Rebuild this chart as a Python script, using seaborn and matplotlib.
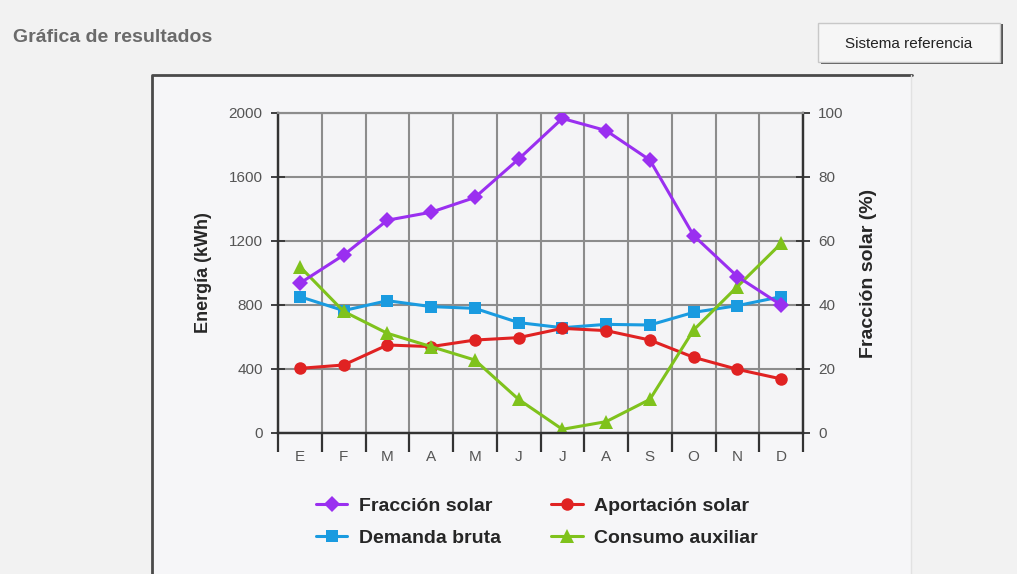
"""
Gráfica de resultados: energía mensual y fracción solar.
"""

import numpy as np
import matplotlib.pyplot as plt
import seaborn as sns
from matplotlib.patches import Rectangle
from matplotlib.ticker import FixedLocator

meses = ['E', 'F', 'M', 'A', 'M', 'J', 'J', 'A', 'S', 'O', 'N', 'D']

# Fracción solar (%) -> eje derecho
fraccion_solar = [46.8, 55.6, 66.5, 69.0, 73.6, 85.6, 98.3, 94.5, 85.3, 61.7, 48.9, 40.0]
# Energía (kWh) -> eje izquierdo
demanda_bruta = [852, 765, 827, 790, 779, 690, 658, 679, 675, 754, 796, 852]
aportacion_solar = [404, 425, 550, 540, 581, 596, 654, 640, 581, 473, 398, 338]
consumo_auxiliar = [1040, 760, 623, 540, 456, 210, 23, 71, 210, 644, 915, 1185]

ticks_energia = [0, 400, 800, 1200, 1600, 2000]
ticks_fraccion = [0, 20, 40, 60, 80, 100]

col_fondo = '#f2f2f2'
col_morado = '#9a2ff0'
col_azul = '#1a9be0'
col_rojo = '#e02222'
col_verde = '#7fc21c'
col_rejilla = '#8c8c8c'

sns.set_style('white')
plt.rcParams['font.family'] = ['Liberation Sans', 'DejaVu Sans']

fig = plt.figure(figsize=(10.17, 5.74), dpi=100)
fig.patch.set_facecolor(col_fondo)

W, H = 1017.0, 574.0


def fx(px):
    return px / W


def fy(py):
    return 1 - py / H


# Título y botón
fig.text(fx(13), fy(38), 'Gráfica de resultados', fontsize=14, fontweight='bold',
         color='#6a6a6a', va='center', ha='left')
fig.patches.append(Rectangle((fx(821), fy(64)), fx(182), 40 / H, transform=fig.transFigure,
                             facecolor='#555555', edgecolor='none', zorder=-10))
fig.patches.append(Rectangle((fx(818), fy(62)), fx(182), 39 / H, transform=fig.transFigure,
                             facecolor='#f6f6f6', edgecolor='#c8c8c8', lw=1, zorder=-9))
fig.text(fx(909), fy(44), 'Sistema referencia', fontsize=11, color='#222222',
         ha='center', va='center')

# Panel del gráfico
fig.patches.append(Rectangle((fx(152), fy(580)), fx(760), 505 / H, transform=fig.transFigure,
                             facecolor='#f6f6f8', edgecolor='none', zorder=-10))
fig.lines.append(plt.Line2D([fx(152), fx(152), fx(912)], [fy(580), fy(75), fy(75)],
                            transform=fig.transFigure, color='#4a4a4a', lw=2, zorder=-8))
fig.lines.append(plt.Line2D([fx(911), fx(911)], [fy(75), fy(580)],
                            transform=fig.transFigure, color='#e2e2e2', lw=1, zorder=-8))

ax = fig.add_axes([fx(278), fy(433), fx(803) - fx(278), fy(113) - fy(433)])
ax.set_facecolor('#f4f4f6')
ax2 = ax.twinx()

x = np.arange(len(meses))

sns.lineplot(x=x, y=demanda_bruta, ax=ax, color=col_azul, marker='s', markersize=8,
             markeredgewidth=0, linewidth=2.2, label='Demanda bruta', legend=False, zorder=3)
sns.lineplot(x=x, y=aportacion_solar, ax=ax, color=col_rojo, marker='o', markersize=9,
             markeredgewidth=0, linewidth=2.2, label='Aportación solar', legend=False, zorder=3)
sns.lineplot(x=x, y=consumo_auxiliar, ax=ax, color=col_verde, marker='^', markersize=10,
             markeredgewidth=0, linewidth=2.2, label='Consumo auxiliar', legend=False, zorder=3)
sns.lineplot(x=x, y=fraccion_solar, ax=ax2, color=col_morado, marker='D', markersize=8,
             markeredgewidth=0, linewidth=2.2, label='Fracción solar', legend=False, zorder=3)

# Ejes
ax.set_xlim(-0.5, len(meses) - 0.5)
ax.set_ylim(0, 2000)
ax2.set_ylim(0, 100)
ax.set_xticks(x)
ax.set_xticklabels(meses)
ax.xaxis.set_minor_locator(FixedLocator(np.arange(-0.5, len(meses), 1.0)))
ax.set_yticks(ticks_energia)
ax2.set_yticks(ticks_fraccion)

ax.grid(False)
ax2.grid(False)
ax.grid(True, which='minor', axis='x', color=col_rejilla, lw=1.5)
ax.grid(True, which='major', axis='y', color=col_rejilla, lw=1.5)

ax.tick_params(axis='x', which='major', bottom=False, labelsize=11, colors='#555555', pad=9)
ax.tick_params(axis='x', which='minor', bottom=True, length=14, width=1.6,
               direction='out', color='#333333')
ax.tick_params(axis='y', left=True, length=10, width=1.3, direction='inout', labelsize=11,
               labelcolor='#555555', color='#333333', pad=6)
ax2.tick_params(axis='y', right=True, length=10, width=1.3, direction='inout', labelsize=11,
                labelcolor='#555555', color='#333333', pad=6)

for a in (ax, ax2):
    for s in a.spines.values():
        s.set_color('#333333')
        s.set_linewidth(1.6)
    a.spines['top'].set_color(col_rejilla)
    a.spines['top'].set_linewidth(1.5)

ax.set_ylabel('Energía (kWh)', fontsize=13, fontweight='bold', labelpad=12)
ax2.set_ylabel('Fracción solar (%)', fontsize=14, fontweight='bold', labelpad=12)

# Leyenda
hl = {l.get_label(): l for l in ax.get_lines() + ax2.get_lines()}
orden = ['Fracción solar', 'Demanda bruta', 'Aportación solar', 'Consumo auxiliar']
fig.legend([hl[k] for k in orden], orden, ncol=2, loc='center',
           bbox_to_anchor=(fx(537), fy(522)), frameon=False,
           prop={'weight': 'bold', 'size': 14}, handlelength=1.6, columnspacing=2.6,
           labelspacing=0.75, handletextpad=0.6)

plt.savefig('out.png', dpi=100, facecolor=fig.get_facecolor())
plt.close()
